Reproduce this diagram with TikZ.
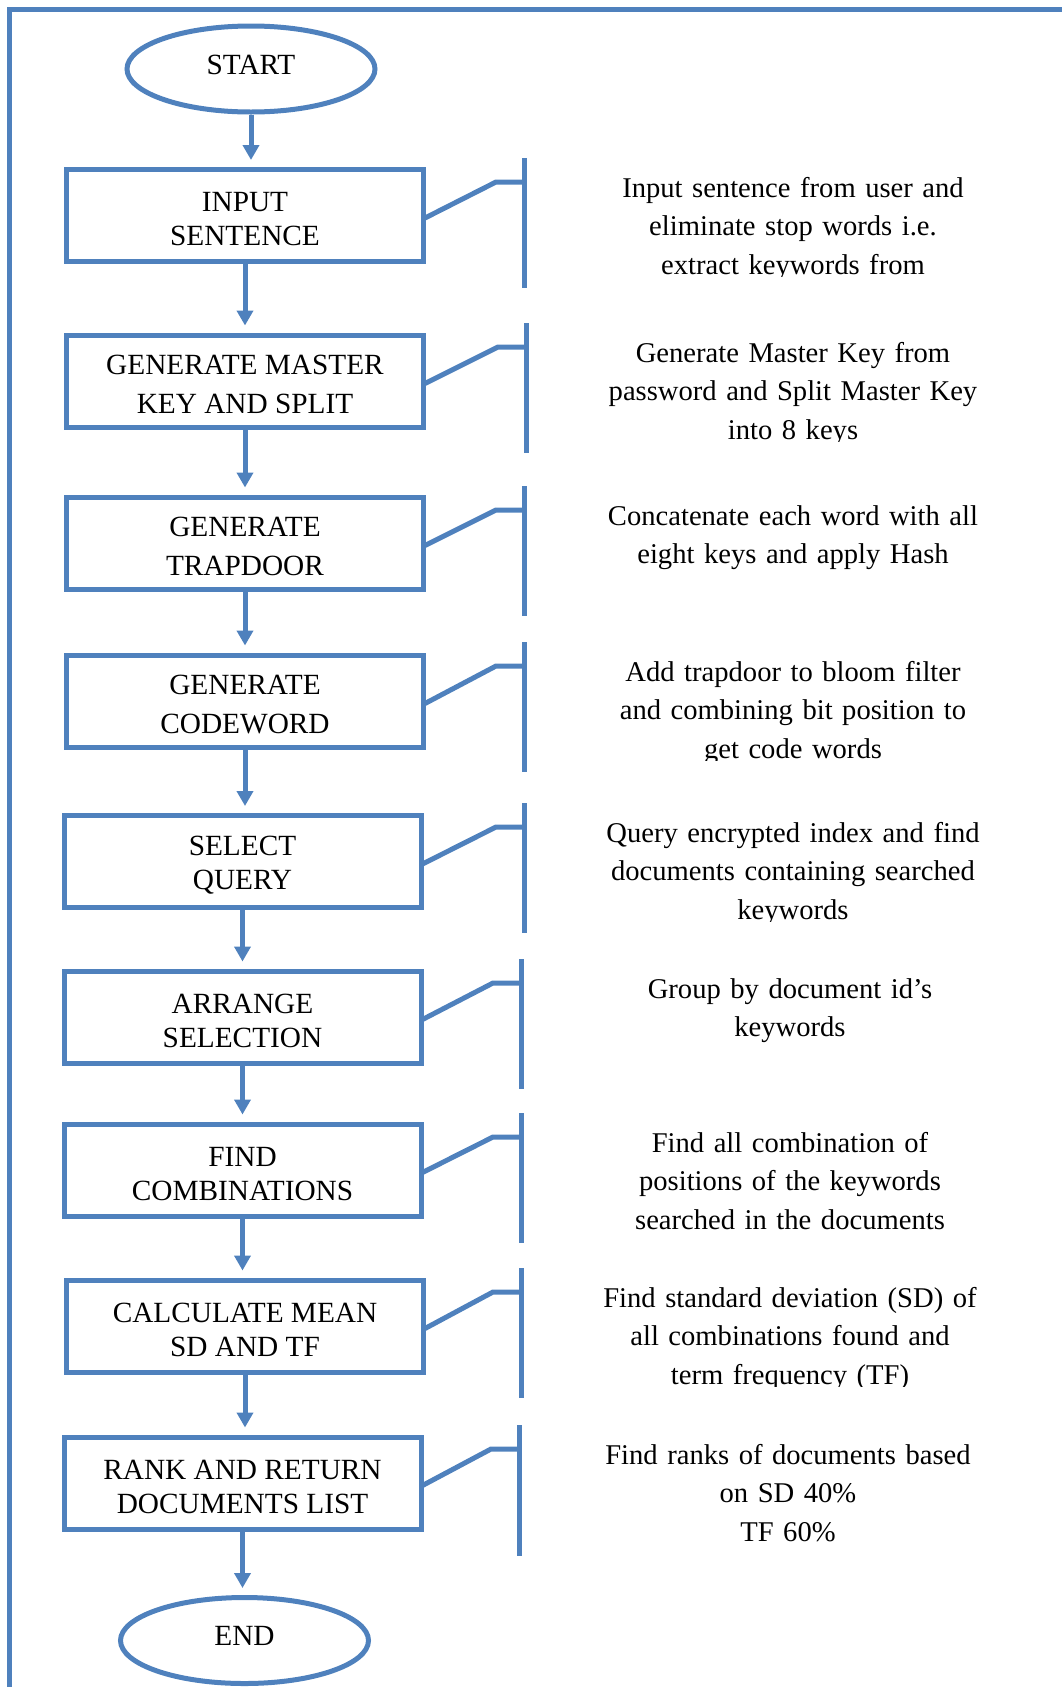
\documentclass[tikz,border=0pt]{standalone}
\usepackage{fontspec}
\setmainfont{Liberation Serif}
\usetikzlibrary{arrows.meta,shapes.geometric,calc}
\definecolor{flowblue}{RGB}{79,129,189}
% tall invisible strut that lowers the two-line box labels a little
\newcommand\boxstrut{\rule{0pt}{27pt}}

\begin{document}
\begin{tikzpicture}[x=1pt,y=-1pt,
  every node/.style={font=\fontsize{29.3}{34}\selectfont},
  stepbox/.style={draw=flowblue, line width=5pt, minimum width=357pt,
    minimum height=92pt, inner sep=0pt, align=center},
  widebox/.style={stepbox, font=\fontsize{29.3}{39}\selectfont},
  terminal/.style={ellipse, draw=flowblue, line width=5pt, minimum width=248pt,
    minimum height=86pt, inner sep=0pt, text depth=9pt},
  flow/.style={draw=flowblue, line width=5pt, shorten >=7pt,
    -{Triangle[length=15pt,width=16pt]}},
  link/.style={draw=flowblue, line width=5pt},
  bar/.style={draw=flowblue, line width=5pt},
  note/.style={anchor=base, align=center, text width=440pt, inner sep=0pt,
    font=\fontsize{28.6}{38.7}\selectfont},
]
\useasboundingbox (0,0) rectangle (1061,1687);

% page frame
\draw[flowblue, line width=5pt] (9,1700) -- (9,9) -- (1070,9);

% terminals and process steps
\node[terminal] (start) at (251,69) {START};
\node[stepbox]  (s1) at (245,215.5) {\boxstrut INPUT\\SENTENCE};
\node[widebox]  (s2) at (245,381)   {\boxstrut GENERATE MASTER\\KEY AND SPLIT};
\node[widebox]  (s3) at (245,543)   {\boxstrut GENERATE\\TRAPDOOR};
\node[widebox]  (s4) at (245,701)   {\boxstrut GENERATE\\CODEWORD};
\node[stepbox]  (s5) at (242.5,861.5) {\boxstrut SELECT\\QUERY};
\node[stepbox]  (s6) at (242.5,1017)  {\boxstrut ARRANGE\\SELECTION};
\node[stepbox]  (s7) at (242.5,1170)  {\boxstrut FIND\\COMBINATIONS};
\node[stepbox]  (s8) at (245,1326)    {\boxstrut CALCULATE MEAN\\SD AND TF};
\node[stepbox]  (s9) at (242.5,1483)  {\boxstrut RANK AND RETURN\\DOCUMENTS LIST};
\node[terminal] (end) at (244.5,1640.5) {END};

% flow arrows
\draw[flow] (start.south) -- (start.south |- s1.north);
\foreach \a/\b in {s1/s2,s2/s3,s3/s4,s4/s5,s5/s6,s6/s7,s7/s8,s8/s9,s9/end}
  \draw[flow] (\a.south) -- (\a.south |- \b.north);

% annotation brackets: top and bottom of each bar
\coordinate (t1) at (524,158);  \coordinate (b1) at (524,288);
\coordinate (t2) at (526,323);  \coordinate (b2) at (526,453);
\coordinate (t3) at (524,486);  \coordinate (b3) at (524,616);
\coordinate (t4) at (524,642);  \coordinate (b4) at (524,772);
\coordinate (t5) at (524,803);  \coordinate (b5) at (524,933);
\coordinate (t6) at (521,959);  \coordinate (b6) at (521,1089);
\coordinate (t7) at (521,1113); \coordinate (b7) at (521,1243);
\coordinate (t8) at (521,1268); \coordinate (b8) at (521,1398);
\coordinate (t9) at (519,1425); \coordinate (b9) at (519,1556);

\foreach \i in {1,...,9}{
  \draw[bar] (t\i) -- (b\i);
  \coordinate (e\i) at ($(t\i)+(-28,24)$);
  \draw[link] ($(s\i.east)+(-1,2.5)$) -- (e\i) -- (e\i -| t\i);
}

% step descriptions, each cut off at the bottom of its text frame
\newcommand\stepnote[3]{%
  \begin{scope}
    \clip ($(t#1)+(40,-5)$) rectangle ($(t#1)+(530,118)$);
    \node[note] (n#1) at ($(t#1)+(#2,39)$) {#3};
  \end{scope}}
\stepnote{1}{269}{Input sentence from user and\\eliminate stop words i.e.\\extract keywords from}
\stepnote{2}{267}{Generate Master Key from\\password and Split Master Key\\into 8 keys}
\stepnote{3}{269}{Concatenate each word with all\\eight keys and apply Hash}
\stepnote{4}{269}{Add trapdoor to bloom filter\\and combining bit position to\\get code words}
\stepnote{5}{269}{Query encrypted index and find\\documents containing searched\\keywords}
\stepnote{6}{269}{Group by document id’s\\keywords}
\stepnote{7}{269}{Find all combination of\\positions of the keywords\\searched in the documents}
\stepnote{8}{269}{Find standard deviation (SD) of\\all combinations found and\\term frequency (TF)}
\stepnote{9}{269}{Find ranks of documents based\\on SD 40\%\\TF 60\%}
\end{tikzpicture}
\end{document}
